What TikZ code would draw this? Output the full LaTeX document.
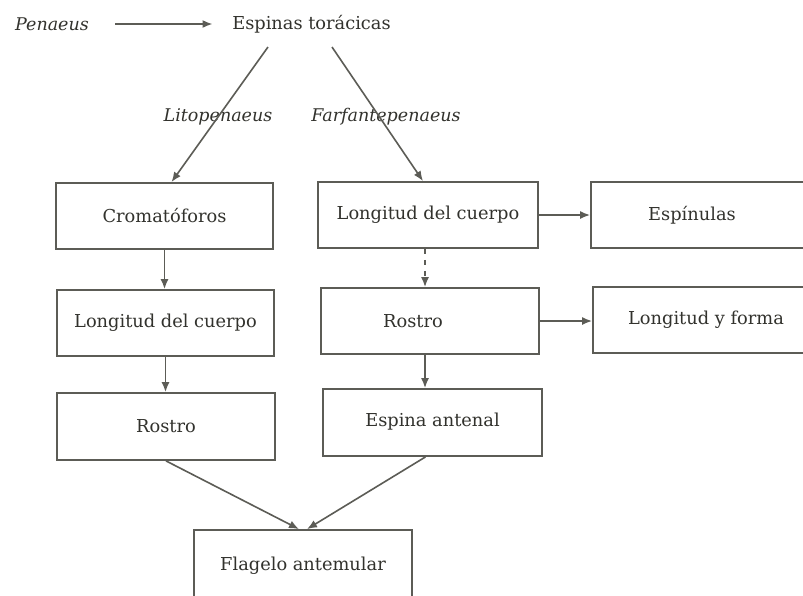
\documentclass[tikz,border=0pt]{standalone}
\usepackage{fontspec}
\setmainfont{DejaVu Serif}
\usetikzlibrary{arrows.meta,calc}
\definecolor{ink}{RGB}{92,92,86}
\definecolor{txt}{RGB}{50,50,45}
\begin{document}
\begin{tikzpicture}[x=1pt,y=-1pt,
  every node/.style={text=txt,font=\fontsize{17.8}{20}\selectfont},
  boxn/.style={draw=ink,line width=1.8pt,inner sep=0pt},
  arr/.style={draw=ink,line width=1.6pt,-{Latex[length=10pt,width=8pt]}},
  lbl/.style={font=\fontsize{17.5}{20}\selectfont\itshape}]
\useasboundingbox[fill=white] (0,0) rectangle (803,595);
% top
\node[lbl] (pen) at (52,24) {Penaeus};
\node (esp) at (311.5,24) {Espinas torácicas};
\node[lbl] (lito) at (218,117) {Litopenaeus};
\node[lbl] (farf) at (386,117) {Farfantepenaeus};
% left column
\node[boxn,minimum width=217,minimum height=66] (crom) at (164.5,216) {Cromatóforos};
\node[boxn,minimum width=217,minimum height=66] (ldcL) at (165.5,323) {Longitud del cuerpo};
\node[boxn,minimum width=218,minimum height=67] (rosL) at (166,426.5) {Rostro};
% right column
\node[boxn,minimum width=220,minimum height=66] (ldcR) at (428,215) {Longitud del cuerpo};
\node[boxn,minimum width=218,minimum height=66] (rosR) at (430,321) {Rostro\hspace*{34pt}};
\node[boxn,minimum width=219,minimum height=67] (espa) at (432.5,422.5) {\raisebox{5pt}{Espina antenal}};
% far right
\node[boxn,minimum width=226,minimum height=66] (espi) at (704,215) {Espínulas\hspace*{24pt}};
\node[boxn,minimum width=226,minimum height=66] (lyf) at (706,320) {Longitud y forma};
% bottom
\node[boxn,minimum width=218,minimum height=72] (flag) at (303,566) {Flagelo antemular};
% helper coordinates
\coordinate (p1) at ($(pen.center)+(63,0)$);
\coordinate (p2) at ($(esp.center)+(-99,0)$);
\coordinate (e1) at ($(esp.center)+(-43.5,23)$);
\coordinate (e2) at ($(esp.center)+(20.5,23)$);
\coordinate (c1) at ($(crom.north)+(7,0)$);
\coordinate (c2) at ($(ldcR.north)+(-5,0)$);
\coordinate (r1) at ($(ldcR.south)+(-3,0)$);
\coordinate (r2) at ($(rosR.south)+(-5,0)$);
\coordinate (f1) at ($(flag.north)+(-4,0)$);
\coordinate (f2) at ($(flag.north)+(4,0)$);
\coordinate (s1) at ($(espa.south)+(-7,0)$);
% connectors
\draw[arr] (p1) -- (p2);
\draw[arr] (e1) -- (c1);
\draw[arr] (e2) -- (c2);
\draw[arr] (crom.south) -- (crom.south |- ldcL.north);
\draw[arr] (ldcL.south) -- (ldcL.south |- rosL.north);
\draw[arr,dash pattern=on 5pt off 6pt] (r1) -- (r1 |- rosR.north);
\draw[arr] (r2) -- (r2 |- espa.north);
\draw[arr] (ldcR.east) -- (ldcR.east -| espi.west);
\draw[arr] (rosR.east) -- (rosR.east -| lyf.west);
\draw[arr] (rosL.south) -- (f1);
\draw[arr] (s1) -- (f2);
\end{tikzpicture}
\end{document}
